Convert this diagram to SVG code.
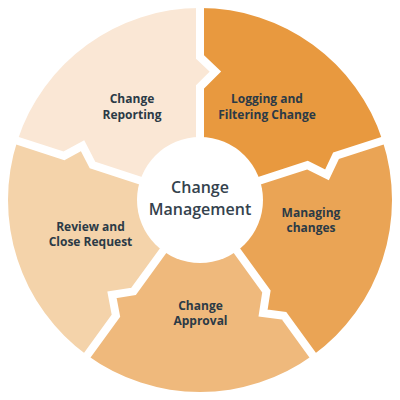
<svg xmlns="http://www.w3.org/2000/svg" width="400" height="400" viewBox="0 0 400 400">
<style>
.lbl{font-family:"Open Sans","Noto Sans","Liberation Sans",sans-serif;font-weight:700;font-size:12px;fill:#2b3a46;text-anchor:middle}
.ctr{font-family:"Open Sans","Noto Sans","Liberation Sans",sans-serif;font-weight:600;font-size:16px;fill:#34424d;text-anchor:middle}
.div{fill:none;stroke:#fff;stroke-width:8;stroke-linejoin:miter;stroke-miterlimit:10}
</style>
<rect width="400" height="400" fill="#fff"/>
<g id="logging">
<path fill="#E8993F" d="M200,200 L200,87 L215.4,71.5 L200,57 L200,8 A192,192 0 0 1 382.60,140.67 L336.00,155.81 L326.97,174.94 L307.47,165.08 Z"/>
<text class="lbl" x="267" y="103">Logging and</text>
<text class="lbl" x="267" y="118.5">Filtering Change</text>
</g>
<g id="managing">
<path fill="#EAA455" d="M200,200 L307.47,165.08 L326.97,174.94 L336.00,155.81 L382.60,140.67 A192,192 0 0 1 312.86,355.33 L284.05,315.69 L263.07,313.01 L266.42,291.42 Z"/>
<text class="lbl" x="311" y="216.5">Managing</text>
<text class="lbl" x="311" y="232">changes</text>
</g>
<g id="approval">
<path fill="#EFB97C" d="M200,200 L266.42,291.42 L263.07,313.01 L284.05,315.69 L312.86,355.33 A192,192 0 0 1 87.14,355.33 L115.95,315.69 L112.01,294.91 L133.58,291.42 Z"/>
<text class="lbl" x="200.5" y="309.5">Change</text>
<text class="lbl" x="200.5" y="325">Approval</text>
</g>
<g id="review">
<path fill="#F4D3AA" d="M200,200 L133.58,291.42 L112.01,294.91 L115.95,315.69 L87.14,355.33 A192,192 0 0 1 17.40,140.67 L64.00,155.81 L82.55,145.64 L92.53,165.08 Z"/>
<text class="lbl" x="90.5" y="230.5">Review and</text>
<text class="lbl" x="90.5" y="246">Close Request</text>
</g>
<g id="reporting">
<path fill="#FAE7D5" d="M200,200 L92.53,165.08 L82.55,145.64 L64.00,155.81 L17.40,140.67 A192,192 0 0 1 200,8 L200,57 L215.4,71.5 L200,87 Z"/>
<text class="lbl" x="132" y="103">Change</text>
<text class="lbl" x="132" y="118.5">Reporting</text>
</g>
<g id="connectors">
<polyline class="div" points="200,140 200,87 215.4,71.5 200,57 200,0"/>
<polyline class="div" points="257,181.5 307.47,165.08 326.97,174.94 336.00,155.81 390.21,138.20"/>
<polyline class="div" points="235.3,248.5 266.42,291.42 263.07,313.01 284.05,315.69 317.56,361.80"/>
<polyline class="div" points="164.7,248.5 133.58,291.42 112.01,294.91 115.95,315.69 82.44,361.80"/>
<polyline class="div" points="143,181.5 92.53,165.08 82.55,145.64 64.00,155.81 9.79,138.20"/>
</g>
<g id="center">
<circle cx="200" cy="200" r="63" fill="#fff"/>
<text class="ctr" x="200" y="193">Change</text>
<text class="ctr" x="200" y="215">Management</text>
</g>
</svg>
